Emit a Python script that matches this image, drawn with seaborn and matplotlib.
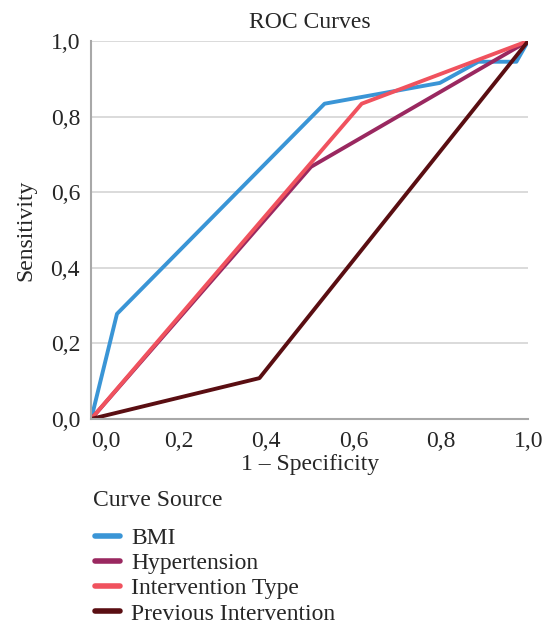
import pandas as pd
import matplotlib
matplotlib.use("Agg")
import matplotlib.pyplot as plt
import seaborn as sns
from matplotlib.ticker import FuncFormatter

# ---------------------------
# Data
# ---------------------------
sources = ["BMI", "Hypertension", "Intervention Type", "Previous Intervention"]
bmi_fpr = [0.0, 0.059, 0.534, 0.798, 0.886, 0.973, 1.0]
bmi_tpr = [0.0, 0.278, 0.834, 0.889, 0.945, 0.945, 1.0]
hyp_fpr = [0.0, 0.503, 1.0]
hyp_tpr = [0.0, 0.667, 1.0]
int_fpr = [0.0, 0.619, 1.0]
int_tpr = [0.0, 0.834, 1.0]
prev_fpr = [0.0, 0.385, 1.0]
prev_tpr = [0.0, 0.108, 1.0]

colors = ["#3a95d6", "#9a2860", "#f0525e", "#5a0e12"]

frames = []
for name, fx, fy in zip(sources, [bmi_fpr, hyp_fpr, int_fpr, prev_fpr],
                        [bmi_tpr, hyp_tpr, int_tpr, prev_tpr]):
    frames.append(pd.DataFrame({"Curve Source": name, "fpr": fx, "tpr": fy}))
df = pd.concat(frames, ignore_index=True)

# ---------------------------
# Plot
# ---------------------------
sns.set_style("white")
plt.rcParams["font.family"] = ["Liberation Serif", "DejaVu Serif"]
FS = 17

fig = plt.figure(figsize=(5.56, 6.3), dpi=100)
ax = fig.add_axes([0.164, 0.335, 0.786, 0.6])

sns.lineplot(data=df, x="fpr", y="tpr", hue="Curve Source", hue_order=sources,
             palette=dict(zip(sources, colors)), sort=False, estimator=None,
             linewidth=2.8, ax=ax)

ax.set_xlim(0, 1)
ax.set_ylim(0, 1)
ticks = [0, 0.2, 0.4, 0.6, 0.8, 1.0]
ax.set_xticks(ticks)
ax.set_yticks(ticks)
fmt = FuncFormatter(lambda v, p: f"{v:.1f}".replace(".", ","))
ax.xaxis.set_major_formatter(fmt)
ax.yaxis.set_major_formatter(fmt)
ax.tick_params(labelsize=FS, length=0)
ax.tick_params(axis="x", pad=9)
ax.tick_params(axis="y", pad=8)
ax.get_xticklabels()[0].set_horizontalalignment("left")

ax.grid(axis="y", color="#d4d4d4", linewidth=1.2)
ax.set_axisbelow(True)
for s in ["top", "right"]:
    ax.spines[s].set_visible(False)
for s in ["left", "bottom"]:
    ax.spines[s].set_color("#a8a8a8")
    ax.spines[s].set_linewidth(1.5)

ax.set_title("ROC Curves", fontsize=FS, pad=9)
ax.set_xlabel("1 \u2013 Specificity", fontsize=FS, labelpad=1)
ax.set_ylabel("Sensitivity", fontsize=FS, labelpad=10)

handles, labels = ax.get_legend_handles_labels()
ax.get_legend().remove()
fig.text(93 / 556, 1 - 501 / 630, "Curve Source", fontsize=FS,
         ha="left", va="center")
leg = fig.legend(handles, labels, loc="upper left",
                 bbox_to_anchor=(0.17, 0.163), frameon=False, fontsize=FS,
                 handlelength=1.1, handletextpad=0.45, labelspacing=0.16,
                 borderaxespad=0, borderpad=0)
for line in leg.get_lines():
    line.set_linewidth(4)

fig.savefig("out.png", dpi=100)
